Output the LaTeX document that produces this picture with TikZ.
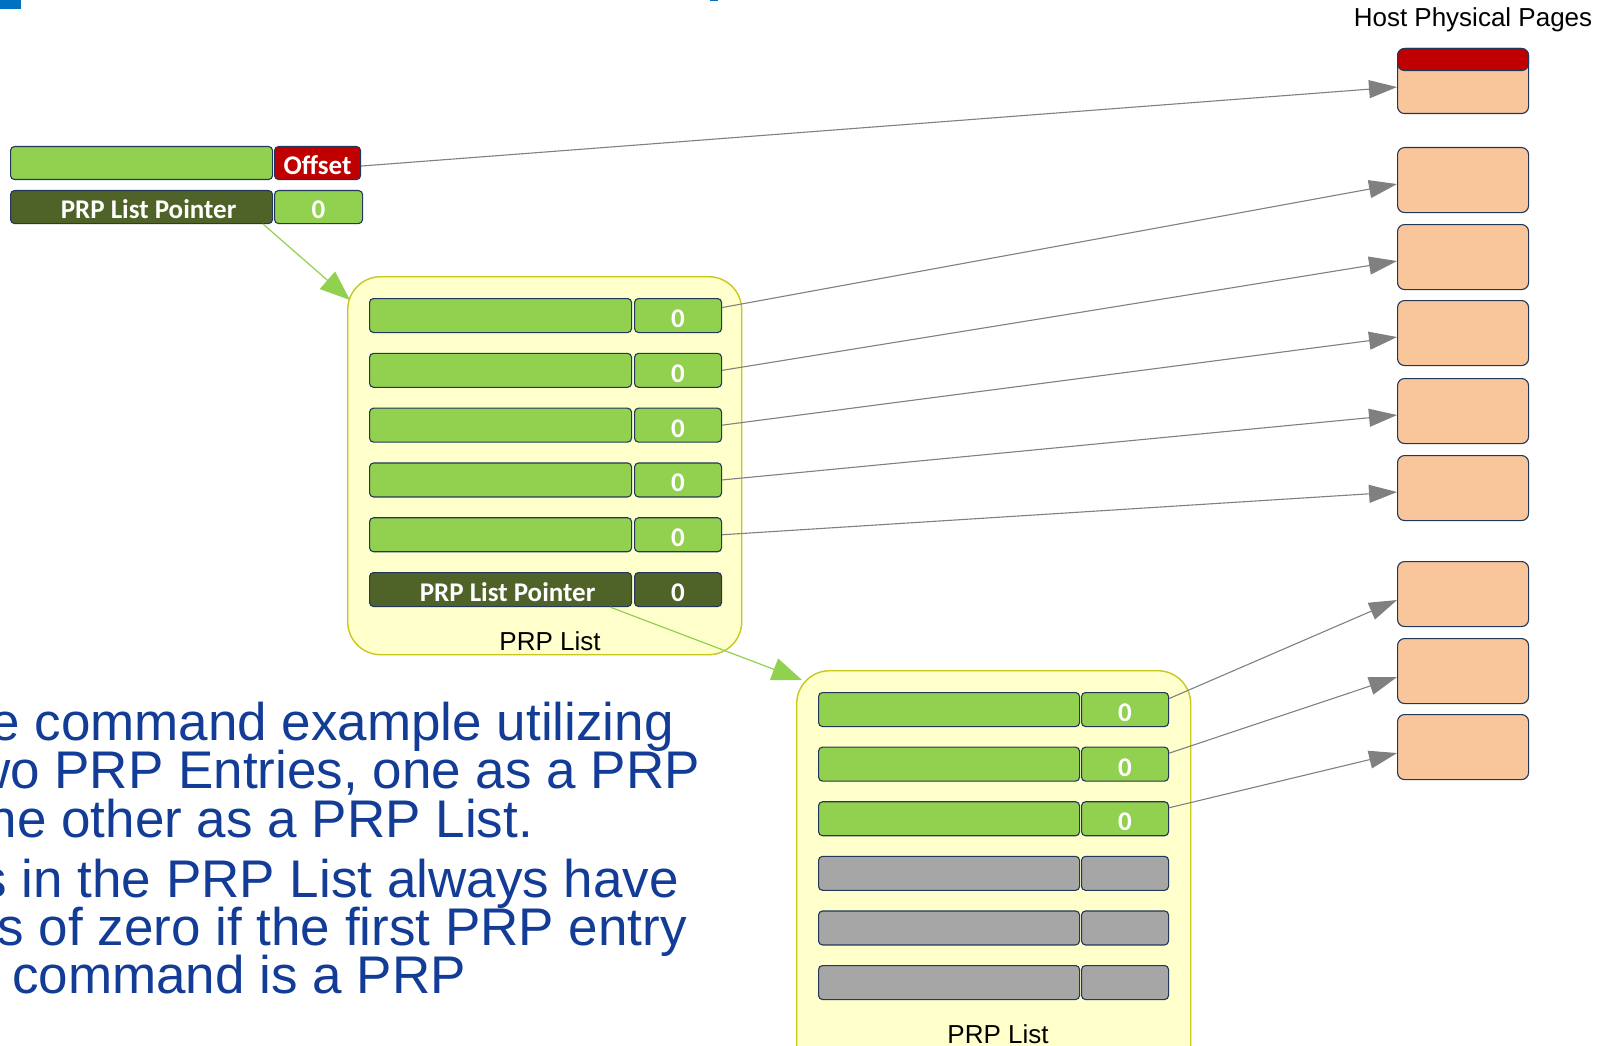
\documentclass[tikz,border=0pt]{standalone}
\usepackage{fontspec}
\setmainfont{Liberation Sans}
\newfontfamily\carlito{Carlito}
\usetikzlibrary{arrows.meta,calc}
\definecolor{lgreen}{HTML}{92D050}
\definecolor{dolive}{HTML}{4F6228}
\definecolor{dred}{HTML}{C00000}
\definecolor{cgray}{HTML}{A6A6A6}
\definecolor{peach}{HTML}{F9C59A}
\definecolor{lyellow}{HTML}{FFFFCC}
\definecolor{ybord}{HTML}{C8C81E}
\definecolor{navy}{HTML}{22375A}
\definecolor{tblue}{HTML}{123C96}
\definecolor{lblue}{HTML}{0070C0}
\definecolor{agray}{HTML}{808080}
\begin{document}
\begin{tikzpicture}[x=1pt,y=-1pt,
  cell/.style={draw=navy, line width=1.1pt, rounded corners=4pt, inner sep=0pt, anchor=north west,
    minimum height=33pt, text height=28pt, text depth=5pt, text=white,
    font=\carlito\bfseries\fontsize{27pt}{27pt}\selectfont},
  wide/.style={cell, minimum width=262pt},
  narrow/.style={cell, minimum width=87pt},
  page/.style={draw=navy, line width=1.1pt, fill=peach, rounded corners=7pt, inner sep=0pt,
    anchor=north west, minimum width=131pt, minimum height=65pt},
  listbox/.style={draw=ybord, line width=1.4pt, fill=lyellow, rounded corners=33pt, inner sep=0pt,
    anchor=north west, minimum width=394pt},
  lbl/.style={anchor=base, inner sep=0pt, font=\fontsize{26pt}{26pt}\selectfont},
  body/.style={inner sep=0pt, text=tblue, font=\fontsize{53pt}{53pt}\selectfont},
  garrow/.style={draw=agray, line width=1.1pt, -{Triangle[length=28pt,width=18pt]}, color=agray},
  grarrow/.style={draw=lgreen, line width=1.2pt, -{Triangle[length=30pt,width=23pt]}, color=lgreen}
]
\clip (0,0) rectangle (1610,1046);
\fill[white] (0,0) rectangle (1610,1046);
\fill[lblue] (0,0) rectangle (21,9);
\fill[lblue] (710,0) rectangle (718,1.5);

% --- command entries ---
\node[wide, fill=lgreen] (prp1) at (10,146) {};
\node[narrow, fill=dred, minimum width=86pt] (off) at (274,146) {Offset};
\node[wide, fill=dolive] (plp) at (10,190) {\hspace*{14pt}PRP List Pointer};
\node[narrow, fill=lgreen, minimum width=88pt] (plpz) at (274,190) {0};

% --- PRP List 1 ---
\node[listbox, minimum height=378pt] (L1) at (347,276) {};
\foreach \i in {1,...,5} {
  \node[wide, fill=lgreen, minimum height=34pt, text height=29pt] (a\i) at (369,{298+54.8*(\i-1)}) {};
  \node[narrow, fill=lgreen, minimum height=34pt, text height=29pt] (b\i) at (634,{298+54.8*(\i-1)}) {0};
}
\node[wide, fill=dolive, minimum height=34pt, text height=29pt] (a6) at (369,572) {\hspace*{14pt}PRP List Pointer};
\node[narrow, fill=dolive, minimum height=34pt, text height=29pt] (b6) at (634,572) {0};
\node[lbl] (lab1) at (550,650) {PRP List};

% --- PRP List 2 ---
\node[listbox, minimum height=430pt] (L2) at (796,670) {};
\foreach \i in {1,2,3} {
  \node[wide, fill=lgreen, minimum width=261pt, minimum height=34pt, text height=29pt] (c\i) at (818,{692+54.6*(\i-1)}) {};
  \node[narrow, fill=lgreen, minimum height=34pt, text height=29pt] (d\i) at (1081,{692+54.6*(\i-1)}) {0};
}
\foreach \i in {4,5,6} {
  \node[wide, fill=cgray, minimum width=261pt, minimum height=34pt, text height=29pt] (c\i) at (818,{692+54.6*(\i-1)}) {};
  \node[narrow, fill=cgray, minimum height=34pt, text height=29pt] (d\i) at (1081,{692+54.6*(\i-1)}) {};
}
\node[lbl] (lab2) at (998,1043) {PRP List};

% --- Host physical pages ---
\node[lbl] (hpp) at (1473,27) {Host Physical Pages};
\node[page] (p1) at (1397,48) {};
\node[page, fill=dred, minimum height=22pt] (p1top) at (1397,48) {};
\foreach \i/\t in {2/147,3/224,4/300,5/378,6/455,7/561,8/638,9/714} {
  \node[page] (p\i) at (1397,\t) {};
}

% --- connectors ---
\draw[garrow] ([yshift=-3pt]off.east) -- ([yshift=-6pt]p1.west);
\draw[garrow] ([yshift=8pt]b1.east) -- ([yshift=-4pt]p2.west);
\foreach \i/\j in {2/3,3/4,4/5,5/6} {
  \draw[garrow] (b\i.east) -- ([yshift=-4pt]p\j.west);
}
\foreach \i/\j in {1/7,2/8,3/9} {
  \draw[garrow] ([yshift=11pt]d\i.east) -- ([yshift=-6pt]p\j.west);
}
\draw[grarrow] ([xshift=-10pt]plp.south east) -- ([xshift=3pt,yshift=-24pt]L1.north west);
\draw[grarrow] ([xshift=-22pt]a6.south east) -- ([xshift=6pt,yshift=-10pt]L2.north west);

% --- body text (cropped at left) ---
\node[body, anchor=base east] (t1) at (674,740) {e command example utilizing};
\node[body, anchor=base east] (t2) at (700,788) {wo PRP Entries, one as a PRP};
\node[body, anchor=base east] (t3) at (533,837) {he other as a PRP List.};
\node[body, anchor=base east] (t4) at (679,897) {s in the PRP List always have};
\node[body, anchor=base east] (t5) at (687,945) {s of zero if the first PRP entry};
\node[body, anchor=base west] (t6) at (12,993) {command is a PRP};
\end{tikzpicture}
\end{document}
